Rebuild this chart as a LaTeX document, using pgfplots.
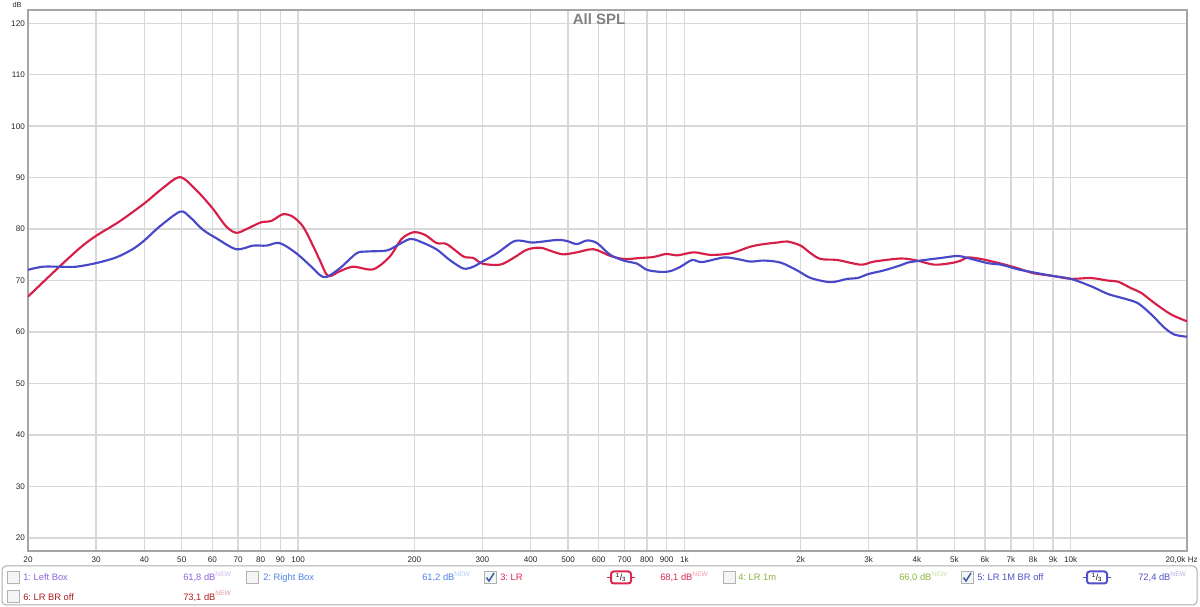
\documentclass[border=0pt]{standalone}
\usepackage{fontspec}
\setmainfont{Liberation Sans}
\usepackage{pgfplots}
\pgfplotsset{compat=1.18}
\frenchspacing

\definecolor{cRed}{RGB}{214,30,72}
\definecolor{cBlue}{RGB}{72,72,200}
\definecolor{cGrid}{RGB}{216,216,216}
\definecolor{cFrame}{RGB}{165,165,165}
\definecolor{cLeft}{RGB}{140,100,220}
\definecolor{cRight}{RGB}{80,130,230}
\definecolor{cLR}{RGB}{220,40,80}
\definecolor{cGreen}{RGB}{140,180,60}
\definecolor{cBR}{RGB}{80,80,200}
\definecolor{cDark}{RGB}{170,30,30}
\definecolor{cTick}{RGB}{60,90,160}

% legend helpers, coordinates in pixels (y downwards)
\newcommand\cbox[2]{\draw[gray!60, fill=gray!8] (#1,#2) rectangle ++(12,12);}
\newcommand\cboxok[2]{\cbox{#1}{#2}%
  \draw[cTick, line width=1.1pt] (#1+2.5,#2+6) -- (#1+5,#2+9.5) -- (#1+10,#2+1.5);}
\newcommand\badge[3]{% x, y, colour
  \draw[#3, line width=1.2pt] (#1,#2) -- ++(28,0);
  \draw[#3, line width=1.5pt, fill=white, rounded corners=2pt] (#1+4,#2-6) rectangle ++(20,12);
  \node[font=\fontsize{6.5}{7}\selectfont, text=black] at (#1+14,#2) {\textsuperscript{1}/\textsubscript{3}};}
\newcommand\lt[4]{\node[anchor=base west, inner sep=0pt, text=#3,
  font=\fontsize{7}{8}\selectfont] at (#1,#2) {#4};}
\newcommand\db[4]{\lt{#1}{#2}{#3}{#4 dB\textsuperscript{\color{#3!45}\fontsize{5}{6}\selectfont NEW}}}

\begin{document}
\begin{tikzpicture}
\useasboundingbox (0,0) rectangle (900pt,455.25pt);
\begin{axis}[
  scale only axis, width=869.25pt, height=405.75pt,
  at={(21pt,42pt)}, anchor=south west,
  xmode=log, xmin=20, xmax=20000, ymin=17.47, ymax=122.58,
  xtick={20,30,40,50,60,70,80,90,100,200,300,400,500,600,700,800,900,1000,2000,3000,4000,5000,6000,7000,8000,9000,10000,20000},
  xticklabels={20,30,40,50,60,70,80,90,100,200,300,400,500,600,700,800,900,1k,2k,3k,4k,5k,6k,7k,8k,9k,10k,{}},
  ytick={20,30,...,120},
  major tick length=0pt,
  grid=major, major grid style={cGrid, line width=1.1pt},
  axis line style={cFrame, line width=2pt},
  tick label style={font=\fontsize{6.1}{7}\selectfont, text=black!85},
  xticklabel style={anchor=north, inner sep=0pt, yshift=-4.3pt},
  yticklabel style={anchor=east, inner sep=0pt, xshift=-2.2pt},
  /pgf/number format/assume math mode=true,
  clip=true,
]
\addplot[cRed, line width=1.6pt, smooth] coordinates {
(20,66.9) (24.1,72.7) (27.4,76.5) (30,78.7) (34.5,81.5) (40,85.0) (44.7,88.0)
(49.5,90.1) (54.5,87.6) (60,84.1) (65.2,80.5) (69.2,79.3) (73.5,80.0) (80,81.3)
(85.3,81.6) (91.4,82.9) (97,82.4) (103,80.5) (109.3,76.8) (113.8,74.0) (119.6,70.9)
(128,71.8) (138.9,72.7) (156.5,72.2) (172.9,74.7) (185.4,78.1) (199,79.4) (213,78.9)
(228.3,77.3) (242.6,77.1) (267.9,74.7) (284.2,74.4) (300,73.3) (333.4,73.1) (361,74.4)
(391,76.0) (423.5,76.4) (458,75.6) (486.5,75.1) (527,75.5) (582,76.1) (643,74.8)
(700,74.2) (769,74.4) (833,74.6) (900,75.2) (957,74.9) (1058,75.5) (1169,75.0)
(1317,75.3) (1483,76.6) (1607,77.1) (1741,77.4) (1848,77.6) (2000,76.8) (2124,75.3)
(2254,74.2) (2490,74.0) (2863,73.1) (3098,73.7) (3634,74.3) (4000,73.9) (4433,73.1)
(4898,73.4) (5200,73.9) (5411,74.5) (5860,74.2) (6603,73.3) (7295,72.4) (8000,71.45)
(9000,70.9) (10000,70.35) (11297,70.5) (12489,70.0) (13256,69.8) (14354,68.5)
(15234,67.6) (16498,65.6) (18220,63.4) (20000,62.1)
};
\addplot[cBlue, line width=1.6pt, smooth] coordinates {
(20,72.1) (21.8,72.7) (24.1,72.7) (26.6,72.7) (30,73.4) (33.8,74.5) (37.3,76.1)
(40,77.8) (43.8,80.5) (49.5,83.4) (52.4,82.4) (56.7,79.9) (61.4,78.25) (69.2,76.1)
(76.4,76.8) (82.8,76.8) (89.6,77.3) (99,75.3) (109.3,72.4) (113.8,71.1) (118.5,70.7)
(128.3,72.4) (141.7,75.3) (150.4,75.65) (169.5,75.85) (180,76.8) (195,78.1)
(206.8,77.6) (228,76.1) (247,74.0) (268,72.35) (284,72.7) (300,73.7) (327,75.3)
(361,77.6) (383,77.7) (406,77.4) (467.8,77.9) (496.6,77.7) (527,77.1) (559.5,77.8)
(594,77.3) (643,75.0) (700,73.85) (754,73.3) (800,72.1) (867,71.7) (920,71.85)
(977,72.7) (1047,74.0) (1112,73.6) (1265,74.5) (1370,74.2) (1483,73.7) (1607,73.9)
(1775,73.5) (1961,71.96) (2124,70.5) (2393,69.7) (2645,70.35) (2806,70.5) (3000,71.3)
(3290,72.0) (3634,73.0) (3782,73.5) (4178,74.0) (4614,74.4) (5098,74.8) (5411,74.4)
(6097,73.4) (6603,73.1) (7295,72.2) (8000,71.6) (9000,70.9) (10000,70.35)
(11297,68.9) (12489,67.4) (13785,66.5) (14933,65.6) (16178,63.4) (17512,60.8)
(18582,59.5) (20000,59.1)
};
\end{axis}

\begin{scope}[shift={(0,455.25pt)}, x=0.75pt, y=-0.75pt]
  % title and axis texts
  \node[font=\bfseries\fontsize{11.2}{12}\selectfont, text=black!50] at (599,19) {All SPL};
  \node[font=\fontsize{5.5}{6}\selectfont, text=black!85] at (17,5) {dB};
  \node[anchor=north east, inner sep=0pt, font=\fontsize{6.1}{7}\selectfont, text=black!85]
    at (1198,556.8) {20,0k Hz};
  % legend panel
  \draw[gray!65, line width=0.75pt, rounded corners=3pt] (2,566) rectangle (1197,605);
  \cbox{7}{571.5}
  \lt{23}{581}{cLeft}{1: Left Box}
  \db{183}{581}{cLeft}{61,8}
  \cbox{246}{571.5}
  \lt{263}{581}{cRight}{2: Right Box}
  \db{422}{581}{cRight}{61,2}
  \cboxok{484}{571.5}
  \lt{500}{581}{cLR}{3: LR}
  \badge{607}{577.5}{cLR}
  \db{660}{581}{cLR}{68,1}
  \cbox{723}{571.5}
  \lt{738}{581}{cGreen}{4: LR 1m}
  \db{899}{581}{cGreen}{66,0}
  \cboxok{961}{571.5}
  \lt{977}{581}{cBR}{5: LR 1M BR off}
  \badge{1083}{577.5}{cBR}
  \db{1138}{581}{cBR}{72,4}
  \cbox{7}{590.5}
  \lt{23}{600}{cDark}{6: LR BR off}
  \db{183}{600}{cDark}{73,1}
\end{scope}
\end{tikzpicture}
\end{document}
